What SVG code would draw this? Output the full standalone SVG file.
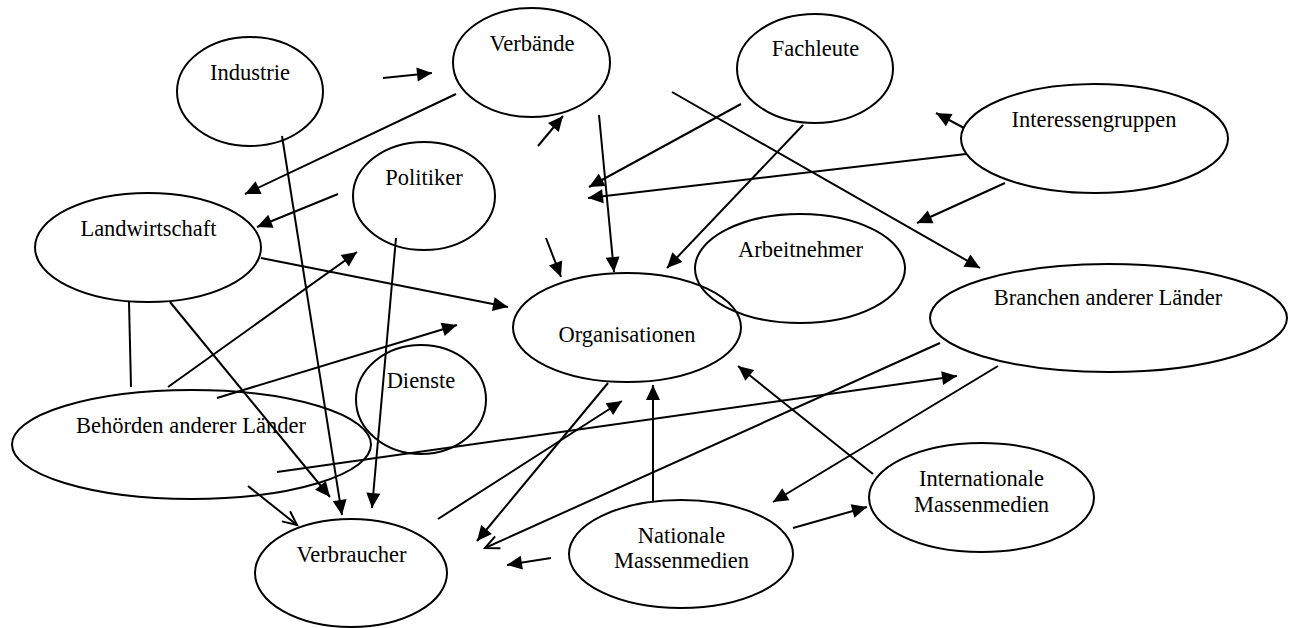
<svg xmlns="http://www.w3.org/2000/svg" width="1297" height="628" viewBox="0 0 1297 628">
<style>
.n ellipse{fill:none;stroke:#000;stroke-width:2}
.n text{font-family:"Liberation Serif","Times New Roman",serif;font-size:22.5px;fill:#000;text-anchor:middle}
#edges line{stroke:#000;stroke-width:2}
.a{marker-end:url(#ah)}
.o{marker-end:url(#oh)}
</style>
<defs>
<marker id="ah" markerUnits="userSpaceOnUse" markerWidth="16" markerHeight="14" refX="15" refY="7" orient="auto" overflow="visible">
<path d="M0,0 L15,7 L0,14 z" fill="#000"/>
</marker>
<marker id="oh" markerUnits="userSpaceOnUse" markerWidth="16" markerHeight="14" refX="15" refY="7" orient="auto" overflow="visible">
<path d="M1,0.5 L15,7 L1,13.5" fill="none" stroke="#000" stroke-width="2"/>
</marker>
</defs>
<rect width="1297" height="628" fill="#fff"/>
<g id="industrie" class="n"><ellipse cx="250" cy="91.5" rx="73" ry="54.5"/><text x="250" y="80">Industrie</text></g>
<g id="verbaende" class="n"><ellipse cx="531.5" cy="62.5" rx="78.5" ry="54.5"/><text x="532" y="51">Verbände</text></g>
<g id="fachleute" class="n"><ellipse cx="815" cy="68.5" rx="78" ry="54.5"/><text x="815.5" y="56">Fachleute</text></g>
<g id="interessengruppen" class="n"><ellipse cx="1094.5" cy="138.5" rx="133.5" ry="54.5"/><text x="1094" y="127">Interessengruppen</text></g>
<g id="politiker" class="n"><ellipse cx="424" cy="196" rx="71" ry="54"/><text x="424" y="185">Politiker</text></g>
<g id="landwirtschaft" class="n"><ellipse cx="148" cy="247.5" rx="113" ry="54.5"/><text x="148.5" y="236">Landwirtschaft</text></g>
<g id="arbeitnehmer" class="n"><ellipse cx="800" cy="268.5" rx="105" ry="54.5"/><text x="800.5" y="257">Arbeitnehmer</text></g>
<g id="organisationen" class="n"><ellipse cx="627" cy="327.5" rx="114" ry="54.5"/><text x="627" y="342">Organisationen</text></g>
<g id="branchen" class="n"><ellipse cx="1108.5" cy="318" rx="178.5" ry="54"/><text x="1108" y="305">Branchen anderer Länder</text></g>
<g id="dienste" class="n"><ellipse cx="421" cy="399.5" rx="65" ry="54.5"/><text x="421" y="388">Dienste</text></g>
<g id="behoerden" class="n"><ellipse cx="191.5" cy="444.5" rx="179.5" ry="54.5"/><text x="191" y="433">Behörden anderer Länder</text></g>
<g id="verbraucher" class="n"><ellipse cx="351" cy="573" rx="96" ry="54"/><text x="351.5" y="562">Verbraucher</text></g>
<g id="nationale" class="n"><ellipse cx="681" cy="554" rx="112" ry="54"/><text x="681.5" y="543">Nationale</text><text x="681.5" y="568">Massenmedien</text></g>
<g id="internationale" class="n"><ellipse cx="981.5" cy="497.5" rx="112.5" ry="54.5"/><text x="981.5" y="486">Internationale</text><text x="981.5" y="512">Massenmedien</text></g>
<g id="edges">
<line class="a" x1="383" y1="78" x2="432" y2="73"/>
<line class="a" x1="456" y1="94" x2="245" y2="194"/>
<line class="a" x1="282" y1="136" x2="342" y2="515"/>
<line class="a" x1="338" y1="194" x2="257" y2="227"/>
<line class="a" x1="168" y1="387" x2="357" y2="252"/>
<line class="a" x1="396" y1="238" x2="372" y2="508"/>
<line class="a" x1="261" y1="258" x2="508" y2="307"/>
<line x1="129" y1="302" x2="131" y2="387"/>
<line class="a" x1="170" y1="302" x2="330" y2="497"/>
<line class="a" x1="217" y1="398" x2="457" y2="325"/>
<line class="a" x1="277" y1="472" x2="957" y2="376"/>
<line class="o" x1="248" y1="486" x2="297" y2="525"/>
<line class="a" x1="438" y1="519" x2="622" y2="401"/>
<line class="a" x1="608" y1="383" x2="477" y2="541"/>
<line class="o" x1="940" y1="343" x2="485" y2="548"/>
<line class="a" x1="653" y1="501" x2="653" y2="385"/>
<line class="a" x1="551" y1="558" x2="507" y2="565"/>
<line class="a" x1="873" y1="474" x2="738" y2="366"/>
<line class="a" x1="998" y1="366" x2="773" y2="502"/>
<line class="a" x1="793" y1="528" x2="867" y2="507"/>
<line class="a" x1="538" y1="146" x2="563" y2="116"/>
<line class="a" x1="599" y1="115" x2="614" y2="272"/>
<line class="a" x1="546" y1="238" x2="561" y2="277"/>
<line class="a" x1="741" y1="104" x2="589" y2="187"/>
<line class="a" x1="966" y1="154" x2="588" y2="198"/>
<line class="a" x1="803" y1="125" x2="667" y2="268"/>
<line class="a" x1="672" y1="92" x2="980" y2="268"/>
<line class="a" x1="964" y1="128" x2="936" y2="113"/>
<line class="a" x1="1005" y1="183" x2="917" y2="223"/>
</g>
</svg>
